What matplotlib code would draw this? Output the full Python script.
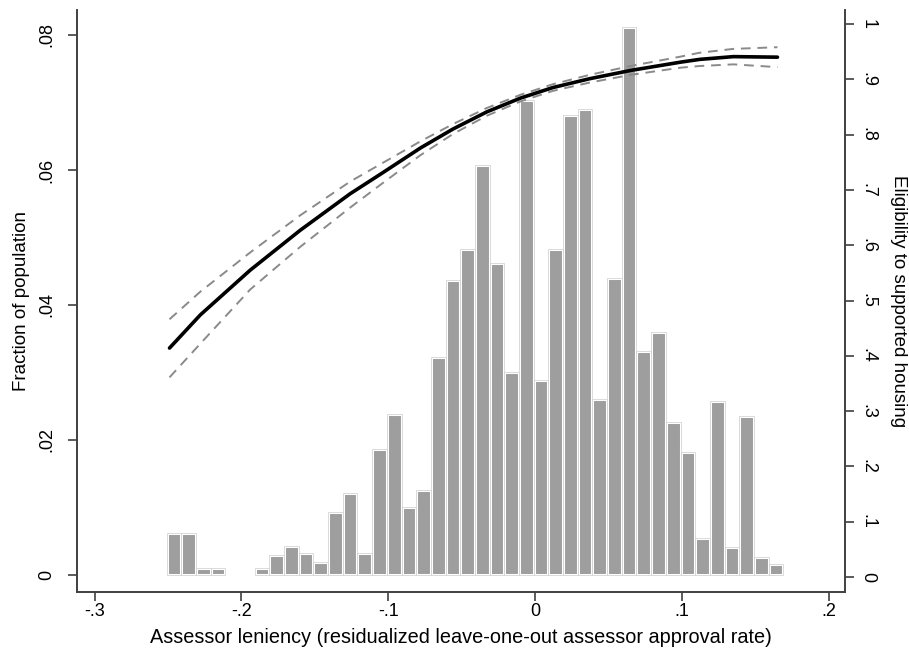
import matplotlib
matplotlib.use("Agg")
import matplotlib.pyplot as plt
import numpy as np

plt.rcParams['font.family'] = ['Liberation Sans', 'DejaVu Sans']

# histogram: bin centers (width .01) and fraction of population
bin_centers = [-0.246, -0.236, -0.226, -0.216,
               -0.186, -0.176, -0.166, -0.156, -0.146, -0.136, -0.126, -0.116,
               -0.106, -0.096, -0.086, -0.076, -0.066, -0.056, -0.046, -0.036,
               -0.026, -0.016, -0.006, 0.004, 0.014, 0.024, 0.034, 0.044,
               0.054, 0.064, 0.074, 0.084, 0.094, 0.104, 0.114, 0.124,
               0.134, 0.144, 0.154, 0.164]
fractions = [0.0062, 0.0062, 0.0010, 0.0010,
             0.0010, 0.0030, 0.0043, 0.0032, 0.0019, 0.0093, 0.0122, 0.0032,
             0.0186, 0.0238, 0.0101, 0.0126, 0.0323, 0.0437, 0.0483, 0.0607,
             0.0462, 0.0300, 0.0704, 0.0289, 0.0483, 0.0681, 0.0691, 0.0260,
             0.0440, 0.0812, 0.0332, 0.0360, 0.0226, 0.0182, 0.0055, 0.0258,
             0.0042, 0.0236, 0.0026, 0.0017]

# fitted eligibility curve with confidence band
fit_x = [-0.249, -0.228, -0.194, -0.160, -0.126, -0.105, -0.078, -0.056,
         -0.033, -0.010, 0.012, 0.037, 0.065, 0.099, 0.112, 0.135, 0.165]
fit_y = [0.414, 0.474, 0.555, 0.627, 0.693, 0.729, 0.776, 0.810,
         0.841, 0.866, 0.885, 0.901, 0.916, 0.931, 0.936, 0.941, 0.940]
ci_upper = [0.466, 0.516, 0.587, 0.654, 0.715, 0.747, 0.788, 0.819,
            0.848, 0.872, 0.891, 0.908, 0.924, 0.941, 0.948, 0.955, 0.958]
ci_lower = [0.361, 0.422, 0.520, 0.597, 0.668, 0.710, 0.763, 0.801,
            0.834, 0.860, 0.879, 0.894, 0.908, 0.921, 0.924, 0.927, 0.922]

xticks = [-0.3, -0.2, -0.1, 0, 0.1, 0.2]
xtick_labels = ["-.3", "-.2", "-.1", "0", ".1", ".2"]
left_ticks = [0, 0.02, 0.04, 0.06, 0.08]
left_labels = ["0", ".02", ".04", ".06", ".08"]
right_ticks = [0, 0.1, 0.2, 0.3, 0.4, 0.5, 0.6, 0.7, 0.8, 0.9, 1.0]
right_labels = ["0", ".1", ".2", ".3", ".4", ".5", ".6", ".7", ".8", ".9", "1"]

axis_col = '#404040'

fig = plt.figure(figsize=(9.09, 6.58), dpi=100)
ax = fig.add_axes([0.0847, 0.1003, 0.8449, 0.8845])
ax2 = ax.twinx()

ax.bar(bin_centers, fractions, width=0.01, color='#9e9e9e',
       edgecolor='white', linewidth=2.2, zorder=2)
ax.bar(bin_centers, fractions, width=0.01, fill=False,
       edgecolor='#d4d4d4', linewidth=0.6, zorder=3)

ax2.plot(fit_x, ci_upper, color='#8a8a8a', lw=1.4, dashes=(5, 3.5))
ax2.plot(fit_x, ci_lower, color='#8a8a8a', lw=1.4, dashes=(5, 3.5))
ax2.plot(fit_x, fit_y, color='black', lw=2.6, solid_capstyle='round',
         solid_joinstyle='round')

ax.set_xlim(-0.312, 0.211)
ax.set_ylim(-0.00252, 0.0837)
ax2.set_ylim(-0.0271, 1.0253)

for a in (ax, ax2):
    a.spines['top'].set_visible(False)
    for s in ('left', 'right', 'bottom'):
        a.spines[s].set_color(axis_col)
        a.spines[s].set_linewidth(1.2)
    a.set_facecolor('none')

ax.set_xticks(xticks)
ax.set_xticklabels(xtick_labels, fontsize=13)
ax.set_yticks(left_ticks)
ax.set_yticklabels(left_labels, fontsize=13, rotation=90, va='center')
ax2.set_yticks(right_ticks)
ax2.set_yticklabels(right_labels, fontsize=13, rotation=270, va='center')
ax.tick_params(axis='x', direction='out', length=6.5, width=1.2, color=axis_col, pad=1.5)
ax.tick_params(axis='y', direction='out', length=6.5, width=1.2, color=axis_col, pad=9)
ax2.tick_params(axis='y', direction='out', length=6.5, width=1.2, color=axis_col, pad=4)

ax.set_xlabel("Assessor leniency (residualized leave-one-out assessor approval rate)",
              fontsize=14.3, labelpad=6)
ax.set_ylabel("Fraction of population", fontsize=13.5, labelpad=6)
ax2.set_ylabel("Eligibility to supported housing", fontsize=13.5, rotation=270,
               labelpad=22)

fig.savefig("out.png", dpi=100, facecolor='white')
